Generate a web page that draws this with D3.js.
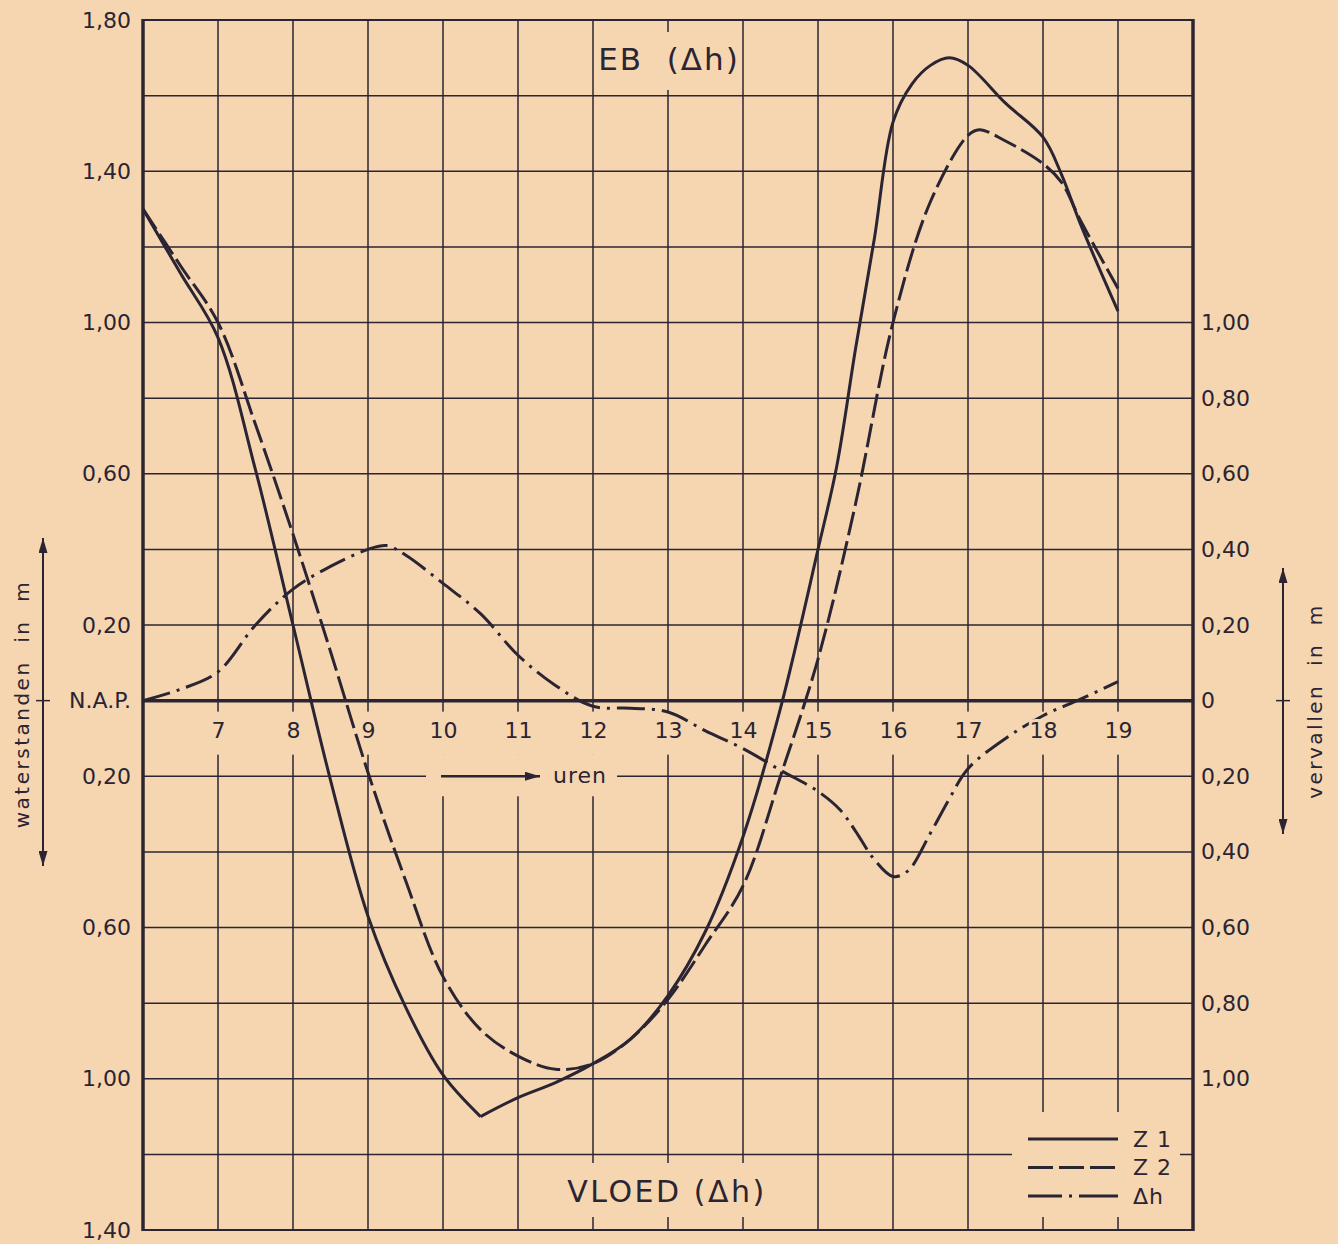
<!DOCTYPE html>
<html>
<head>
<meta charset="utf-8">
<script src="https://cdn.jsdelivr.net/npm/d3@7"></script>
<style>
html, body { margin: 0; padding: 0; background: #f5d6b0; }
svg { display: block; }
text { font-family: "DejaVu Sans", sans-serif; fill: #2b2433; }
</style>
</head>
<body>
<div class="chart"></div>
<script>
// Data (hours, metres)
var z1Hours  = [6, 6.5, 7, 7.5, 8, 8.5, 9, 9.5, 10, 10.5, 11, 11.5, 12, 12.5, 13, 13.5, 14, 14.5, 15, 15.25, 15.5, 15.75, 16, 16.25, 16.5, 16.75, 17, 17.5, 18, 18.25, 18.5, 19];
var z1Values = [1.30, 1.13, 0.96, 0.61, 0.20, -0.21, -0.57, -0.81, -0.99, -1.10, -1.05, -1.01, -0.96, -0.895, -0.78, -0.61, -0.36, -0.02, 0.40, 0.62, 0.93, 1.22, 1.53, 1.63, 1.68, 1.70, 1.68, 1.58, 1.49, 1.39, 1.26, 1.03];

var z2Hours  = [6, 6.5, 7, 7.5, 8, 8.5, 9, 9.5, 10, 10.5, 11, 11.5, 12, 12.5, 13, 13.5, 14, 14.5, 15, 15.5, 16, 16.5, 17, 17.15, 17.5, 18, 18.25, 18.5, 19];
var z2Values = [1.30, 1.15, 1.00, 0.73, 0.44, 0.13, -0.19, -0.475, -0.73, -0.87, -0.94, -0.975, -0.96, -0.895, -0.79, -0.645, -0.49, -0.20, 0.11, 0.52, 1.00, 1.32, 1.495, 1.51, 1.48, 1.42, 1.37, 1.27, 1.09];

var dhHours  = [6, 6.5, 7, 7.5, 8, 8.5, 9, 9.25, 9.5, 10, 10.5, 11, 11.5, 12, 12.5, 13, 13.5, 14, 14.5, 15, 15.3, 15.5, 15.75, 16, 16.2, 16.5, 16.75, 17, 17.5, 18, 18.5, 19];
var dhValues = [0, 0.03, 0.076, 0.20, 0.295, 0.355, 0.40, 0.41, 0.385, 0.31, 0.23, 0.12, 0.04, -0.015, -0.02, -0.03, -0.08, -0.127, -0.184, -0.24, -0.29, -0.345, -0.42, -0.465, -0.45, -0.35, -0.26, -0.18, -0.10, -0.04, 0.004, 0.05];

var hourTicks  = [7, 8, 9, 10, 11, 12, 13, 14, 15, 16, 17, 18, 19];
var leftTicks  = [1.8, 1.4, 1.0, 0.6, 0.2, 0, -0.2, -0.6, -1.0, -1.4];
var rightTicks = [1.0, 0.8, 0.6, 0.4, 0.2, 0, -0.2, -0.4, -0.6, -0.8, -1.0];
var seriesNames = ["Z 1", "Z 2", "\u0394h"];

// Configuration
var width = 1338;
var height = 1244;
var paper = "#f5d6b0";
var ink = "#2b2433";

var x = d3.scaleLinear().domain([6, 20]).range([143, 1193]);
var y = d3.scaleLinear().domain([-1.4, 1.8]).range([1230, 20]);

// kinks: hours where the drawn curve has a sharp corner
var series = [
    { name: seriesNames[0], hours: z1Hours, values: z1Values, dash: null, legendDash: null, kinks: [10.5] },
    { name: seriesNames[1], hours: z2Hours, values: z2Values, dash: "24,6", legendDash: "25,6", kinks: [] },
    { name: seriesNames[2], hours: dhHours, values: dhValues, dash: "28,7,3,7", legendDash: "34,7,3,7,40", kinks: [] }
];

var svg = d3.select(".chart").append("svg")
    .attr("width", width)
    .attr("height", height);

var defs = svg.append("defs");
defs.append("marker")
    .attr("id", "arrow")
    .attr("viewBox", "0 0 10 10")
    .attr("refX", 10).attr("refY", 5)
    .attr("markerUnits", "userSpaceOnUse")
    .attr("markerWidth", 15).attr("markerHeight", 9)
    .attr("preserveAspectRatio", "none")
    .attr("orient", "auto-start-reverse")
    .append("path")
    .attr("d", "M0,0 L10,5 L0,10 z")
    .attr("fill", ink);

svg.append("rect").attr("width", width).attr("height", height).attr("fill", paper);

// Grid
var grid = svg.append("g").attr("stroke", ink).attr("stroke-width", 1.5);
grid.selectAll("line.v")
    .data(hourTicks)
    .enter().append("line")
    .attr("class", "v")
    .attr("x1", function(d) { return x(d); }).attr("x2", function(d) { return x(d); })
    .attr("y1", y(1.8)).attr("y2", y(-1.4));
grid.selectAll("line.h")
    .data(d3.range(-7, 10).map(function(i) { return i * 0.2; }))
    .enter().append("line")
    .attr("class", "h")
    .attr("x1", x(6)).attr("x2", x(20))
    .attr("y1", function(d) { return y(d); }).attr("y2", function(d) { return y(d); });

// Gaps in the grid behind the lettering
var masks = [
    [146, y(0) + 11, 1044, 43],     // hour labels
    [426, y(-0.2) - 22, 191, 42],   // "uren"
    [600, 32, 138, 58],             // EB title
    [560, 1163, 212, 54],           // VLOED title
    [1012, 1112, 168, 105]          // legend
];
svg.selectAll("rect.mask")
    .data(masks)
    .enter().append("rect")
    .attr("class", "mask")
    .attr("x", function(d) { return d[0]; })
    .attr("y", function(d) { return d[1]; })
    .attr("width", function(d) { return d[2]; })
    .attr("height", function(d) { return d[3]; })
    .attr("fill", paper);

// Frame and N.A.P. line
var frame = svg.append("g").attr("stroke", ink).attr("fill", "none");
frame.append("line").attr("x1", x(6)).attr("x2", x(6)).attr("y1", y(1.8) - 1).attr("y2", y(-1.4) + 1).attr("stroke-width", 3.5);
frame.append("line").attr("x1", x(20)).attr("x2", x(20)).attr("y1", y(1.8) - 1).attr("y2", y(-1.4) + 1).attr("stroke-width", 3.5);
frame.append("line").attr("x1", x(6)).attr("x2", x(20)).attr("y1", y(1.8)).attr("y2", y(1.8)).attr("stroke-width", 2.2);
frame.append("line").attr("x1", x(6)).attr("x2", x(20)).attr("y1", y(-1.4)).attr("y2", y(-1.4)).attr("stroke-width", 2.2);
frame.append("line").attr("x1", x(6)).attr("x2", x(20)).attr("y1", y(0)).attr("y2", y(0)).attr("stroke-width", 3.5);

// Curves
var line = d3.line()
    .x(function(d) { return x(d[0]); })
    .y(function(d) { return y(d[1]); })
    .curve(d3.curveCatmullRom.alpha(0.5));

function curvePath(d) {
    var pts = d.hours.map(function(h, i) { return [h, d.values[i]]; });
    var parts = [], current = [];
    pts.forEach(function(p) {
        current.push(p);
        if (d.kinks.indexOf(p[0]) >= 0) {
            parts.push(current);
            current = [p];
        }
    });
    parts.push(current);
    return parts.map(function(part) { return line(part); }).join("");
}

svg.selectAll("path.curve")
    .data(series)
    .enter().append("path")
    .attr("class", "curve")
    .attr("fill", "none")
    .attr("stroke", ink)
    .attr("stroke-width", 3)
    .attr("stroke-linejoin", "round")
    .attr("stroke-dasharray", function(d) { return d.dash; })
    .attr("d", curvePath);

// Axes
function comma(d) { return Math.abs(d).toFixed(2).replace(".", ","); }

var leftAxis = svg.append("g")
    .attr("transform", "translate(" + x(6) + ",0)")
    .call(d3.axisLeft(y).tickValues(leftTicks).tickSize(0).tickPadding(12)
        .tickFormat(function(d) { return d === 0 ? "N.A.P." : comma(d); }));
leftAxis.select(".domain").remove();
leftAxis.selectAll("text").attr("font-size", 22).attr("font-family", "DejaVu Sans").attr("fill", ink);

var rightAxis = svg.append("g")
    .attr("transform", "translate(" + x(20) + ",0)")
    .call(d3.axisRight(y).tickValues(rightTicks).tickSize(0).tickPadding(8)
        .tickFormat(function(d) { return d === 0 ? "0" : comma(d); }));
rightAxis.select(".domain").remove();
rightAxis.selectAll("text").attr("font-size", 22).attr("font-family", "DejaVu Sans").attr("fill", ink);

var hourAxis = svg.append("g")
    .attr("transform", "translate(0," + y(0) + ")")
    .call(d3.axisBottom(x).tickValues(hourTicks).tickSize(0).tickPadding(22));
hourAxis.select(".domain").remove();
hourAxis.selectAll("text")
    .attr("font-size", 22).attr("font-family", "DejaVu Sans").attr("fill", ink)
    .attr("stroke", paper).attr("stroke-width", 6).attr("paint-order", "stroke");

// Titles
svg.append("text")
    .attr("x", 669).attr("y", 70)
    .attr("text-anchor", "middle")
    .attr("font-size", 31)
    .attr("letter-spacing", 2)
    .style("white-space", "pre")
    .text("EB  (\u0394h)");
svg.append("text")
    .attr("x", 667).attr("y", 1202)
    .attr("text-anchor", "middle")
    .attr("font-size", 30)
    .attr("letter-spacing", 2.5)
    .style("white-space", "pre")
    .text("VLOED (\u0394h)");

// "uren" arrow
svg.append("line")
    .attr("x1", 441).attr("x2", 540)
    .attr("y1", y(-0.2)).attr("y2", y(-0.2))
    .attr("stroke", ink).attr("stroke-width", 2.5)
    .attr("marker-end", "url(#arrow)");
svg.append("text")
    .attr("x", 553).attr("y", y(-0.2) + 7)
    .attr("font-size", 22)
    .attr("letter-spacing", 1)
    .text("uren");

// Side labels with double arrows
function sideArrow(ax, y1, y2) {
    svg.append("line")
        .attr("x1", ax).attr("x2", ax).attr("y1", y1).attr("y2", y2)
        .attr("stroke", ink).attr("stroke-width", 2)
        .attr("marker-start", "url(#arrow)")
        .attr("marker-end", "url(#arrow)");
    svg.append("line")
        .attr("x1", ax - 7).attr("x2", ax + 7).attr("y1", y(0)).attr("y2", y(0))
        .attr("stroke", ink).attr("stroke-width", 1.5);
}
sideArrow(43, 538, 866);
sideArrow(1283, 568, 834);

svg.append("text")
    .attr("transform", "translate(29," + 704 + ") rotate(-90)")
    .attr("text-anchor", "middle")
    .attr("font-size", 20)
    .attr("letter-spacing", 2.5)
    .style("white-space", "pre")
    .text("waterstanden  in  m");
svg.append("text")
    .attr("transform", "translate(1322," + 701 + ") rotate(-90)")
    .attr("text-anchor", "middle")
    .attr("font-size", 20)
    .attr("letter-spacing", 2.5)
    .style("white-space", "pre")
    .text("vervallen  in  m");

// Legend
var legend = svg.selectAll("g.legend")
    .data(series)
    .enter().append("g")
    .attr("class", "legend")
    .attr("transform", function(d, i) { return "translate(0," + (1139 + i * 28.5) + ")"; });
legend.append("line")
    .attr("x1", 1028).attr("x2", 1118)
    .attr("stroke", ink).attr("stroke-width", 3)
    .attr("stroke-dasharray", function(d) { return d.legendDash; });
legend.append("text")
    .attr("x", 1133).attr("dy", "0.36em")
    .attr("font-size", 22)
    .attr("letter-spacing", 1)
    .style("white-space", "pre")
    .text(function(d) { return d.name; });
</script>
</body>
</html>
